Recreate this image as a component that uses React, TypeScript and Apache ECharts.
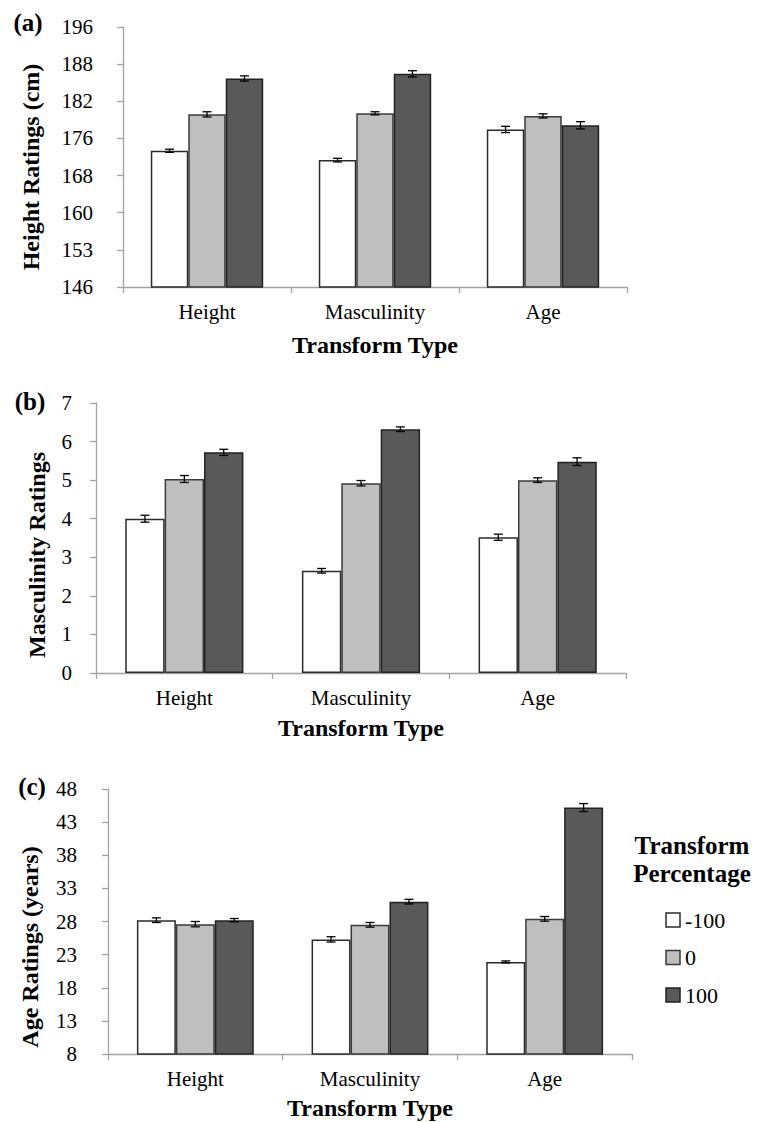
import React, { useEffect, useRef } from "react";
import * as echarts from "echarts";

// ---------- data ----------
const categories = ["Height", "Masculinity", "Age"];
const seriesNames = ["-100", "0", "100"];

// (a) Height ratings (cm)
const heightTicks = ["146", "153", "160", "168", "176", "182", "188", "196"];
const heightNeg100 = [172.2, 170.4, 176.3];
const height0 = [179.2, 179.4, 178.9];
const height100 = [186.1, 187.0, 177.1];
const heightErrNeg100 = [0.3, 0.35, 0.6];
const heightErr0 = [0.5, 0.3, 0.4];
const heightErr100 = [0.5, 0.6, 0.7];

// (b) Masculinity ratings
const mascTicks = ["0", "1", "2", "3", "4", "5", "6", "7"];
const mascNeg100 = [4.0, 2.65, 3.52];
const masc0 = [5.03, 4.92, 5.0];
const masc100 = [5.72, 6.32, 5.48];
const mascErrNeg100 = [0.09, 0.06, 0.08];
const mascErr0 = [0.09, 0.07, 0.06];
const mascErr100 = [0.08, 0.06, 0.1];

// (c) Age ratings (years)
const ageTicks = ["8", "13", "18", "23", "28", "33", "38", "43", "48"];
const ageNeg100 = [28.2, 25.3, 21.9];
const age0 = [27.6, 27.5, 28.4];
const age100 = [28.2, 31.0, 45.2];
const ageErrNeg100 = [0.35, 0.4, 0.15];
const ageErr0 = [0.4, 0.35, 0.35];
const ageErr100 = [0.25, 0.35, 0.6];

// ---------- layout / style ----------
const FONT = "Liberation Serif, Times New Roman, serif";
const AXIS_COLOR = "#A3A3A3";
const BAR_WIDTH_FRAC = 0.223;

const barStyles = [
  { color: "#FFFFFF", borderColor: "#2b2b2b", borderWidth: 1.5 },
  { color: "#BFBFBF", borderColor: "#3a3a3a", borderWidth: 1.5 },
  { color: "#595959", borderColor: "#222222", borderWidth: 1.5 },
];

const panels = [
  {
    label: "(a)",
    labelPos: [28, 22],
    yTitle: "Height Ratings (cm)",
    yTitlePos: [31, 167],
    ticks: heightTicks,
    means: [heightNeg100, height0, height100],
    errs: [heightErrNeg100, heightErr0, heightErr100],
    grid: { left: 123, top: 27, width: 504, height: 260 },
    labelMargin: 30,
    nameGap: 46,
  },
  {
    label: "(b)",
    labelPos: [30, 401],
    yTitle: "Masculinity Ratings",
    yTitlePos: [37, 555],
    ticks: mascTicks,
    means: [mascNeg100, masc0, masc100],
    errs: [mascErrNeg100, mascErr0, mascErr100],
    grid: { left: 96, top: 403, width: 530, height: 270 },
    labelMargin: 24,
    nameGap: 43,
  },
  {
    label: "(c)",
    labelPos: [32, 786],
    yTitle: "Age Ratings (years)",
    yTitlePos: [30, 947],
    ticks: ageTicks,
    means: [ageNeg100, age0, age100],
    errs: [ageErrNeg100, ageErr0, ageErr100],
    grid: { left: 108, top: 789, width: 524, height: 265 },
    labelMargin: 31,
    nameGap: 42,
  },
];

const LEGEND_X = 666;
const LEGEND_Y0 = 920;
const LEGEND_STEP = 37.5;

function buildOption() {
  const grid: any[] = [];
  const xAxis: any[] = [];
  const yAxis: any[] = [];
  const series: any[] = [];
  const graphic: any[] = [];

  panels.forEach((p, i) => {
    grid.push({ ...p.grid, containLabel: false, outerBoundsMode: "none" });
    const ticks = p.ticks;
    const yMin = Number(ticks[0]);
    const yMax = Number(ticks[ticks.length - 1]);

    xAxis.push({
      type: "category",
      gridIndex: i,
      data: categories,
      axisLine: { lineStyle: { color: AXIS_COLOR, width: 1.3 } },
      axisTick: { show: true, length: 6, lineStyle: { color: AXIS_COLOR, width: 1.3 } },
      axisLabel: { color: "#000", fontFamily: FONT, fontSize: 21, margin: 14 },
      splitLine: { show: false },
      name: "Transform Type",
      nameLocation: "middle",
      nameGap: p.nameGap,
      nameTextStyle: { color: "#000", fontFamily: FONT, fontWeight: "bold", fontSize: 24 },
    });

    // data axis (real units)
    yAxis.push({
      type: "value",
      gridIndex: i,
      min: yMin,
      max: yMax,
      position: "left",
      show: false,
      splitLine: { show: false },
    });
    // label axis (evenly spaced tick labels)
    yAxis.push({
      type: "value",
      gridIndex: i,
      min: 0,
      max: ticks.length - 1,
      interval: 1,
      position: "left",
      axisLine: { show: true, lineStyle: { color: AXIS_COLOR, width: 1.3 } },
      axisTick: { show: true, length: 6, lineStyle: { color: AXIS_COLOR, width: 1.3 } },
      splitLine: { show: false },
      axisLabel: {
        color: "#000",
        fontFamily: FONT,
        fontSize: 21,
        margin: p.labelMargin,
        formatter: (v: number) => ticks[Math.round(v)] ?? "",
      },
    });

    seriesNames.forEach((name, j) => {
      series.push({
        type: "bar",
        name,
        xAxisIndex: i,
        yAxisIndex: 2 * i,
        data: p.means[j],
        barWidth: (BAR_WIDTH_FRAC * 100).toFixed(1) + "%",
        barGap: "0%",
        itemStyle: barStyles[j],
        clip: true,
        silent: true,
      });
    });

    const errData: number[][] = [];
    seriesNames.forEach((_, j) => {
      categories.forEach((_, c) => {
        errData.push([c, j, p.means[j][c], p.errs[j][c]]);
      });
    });

    series.push({
      type: "custom",
      name: "err" + i,
      xAxisIndex: i,
      yAxisIndex: 2 * i,
      z: 10,
      silent: true,
      data: errData,
      encode: { x: 0, y: 2 },
      renderItem: (params: any, api: any) => {
        const c = api.value(0);
        const s = api.value(1);
        const m = api.value(2);
        const e = api.value(3);
        const bw = api.size([1, 0])[0] * BAR_WIDTH_FRAC;
        const x = api.coord([c, m])[0] + (s - 1) * bw;
        const yTop = api.coord([c, m + e])[1];
        const yBot = api.coord([c, m - e])[1];
        const cap = 4.5;
        const style = { stroke: "#000", lineWidth: 1.3 };
        return {
          type: "group",
          children: [
            { type: "line", shape: { x1: x, y1: yTop, x2: x, y2: yBot }, style },
            { type: "line", shape: { x1: x - cap, y1: yTop, x2: x + cap, y2: yTop }, style },
            { type: "line", shape: { x1: x - cap, y1: yBot, x2: x + cap, y2: yBot }, style },
          ],
        };
      },
    });

    graphic.push({
      type: "text",
      x: p.labelPos[0],
      y: p.labelPos[1],
      style: {
        text: p.label,
        fontFamily: FONT,
        fontWeight: "bold",
        fontSize: 25,
        fill: "#000",
        textAlign: "center",
        textVerticalAlign: "middle",
        align: "center",
        verticalAlign: "middle",
      },
    });
    graphic.push({
      type: "text",
      x: p.yTitlePos[0],
      y: p.yTitlePos[1],
      rotation: Math.PI / 2,
      style: {
        text: p.yTitle,
        fontFamily: FONT,
        fontWeight: "bold",
        fontSize: 24,
        fill: "#000",
        textAlign: "center",
        textVerticalAlign: "middle",
        align: "center",
        verticalAlign: "middle",
      },
    });
  });

  // legend title
  ["Transform", "Percentage"].forEach((t, k) => {
    graphic.push({
      type: "text",
      x: 692,
      y: 845 + k * 28,
      style: {
        text: t,
        fontFamily: FONT,
        fontWeight: "bold",
        fontSize: 25,
        fill: "#000",
        textAlign: "center",
        textVerticalAlign: "middle",
        align: "center",
        verticalAlign: "middle",
      },
    });
  });

  // legend entries
  seriesNames.forEach((name, j) => {
    const cy = LEGEND_Y0 + j * LEGEND_STEP;
    graphic.push({
      type: "rect",
      shape: { x: LEGEND_X, y: cy - 7, width: 14, height: 14 },
      style: { fill: barStyles[j].color, stroke: barStyles[j].borderColor, lineWidth: 1.5 },
    });
    graphic.push({
      type: "text",
      x: LEGEND_X + 19,
      y: cy,
      style: {
        text: name,
        fontFamily: FONT,
        fontSize: 22,
        fill: "#000",
        textAlign: "left",
        textVerticalAlign: "middle",
        align: "left",
        verticalAlign: "middle",
      },
    });
  });

  return {
    animation: false,
    backgroundColor: "#FFFFFF",
    textStyle: { fontFamily: FONT },
    grid,
    xAxis,
    yAxis,
    series,
    graphic,
  };
}

export default function App() {
  const ref = useRef<HTMLDivElement>(null);
  useEffect(() => {
    if (!ref.current) return;
    const chart = echarts.init(ref.current, undefined, { renderer: "svg" });
    chart.setOption(buildOption() as any);
    return () => chart.dispose();
  }, []);
  return (
    <div
      ref={ref}
      style={{ position: "absolute", left: 0, top: 0, width: 765, height: 1122, background: "#fff" }}
    />
  );
}
